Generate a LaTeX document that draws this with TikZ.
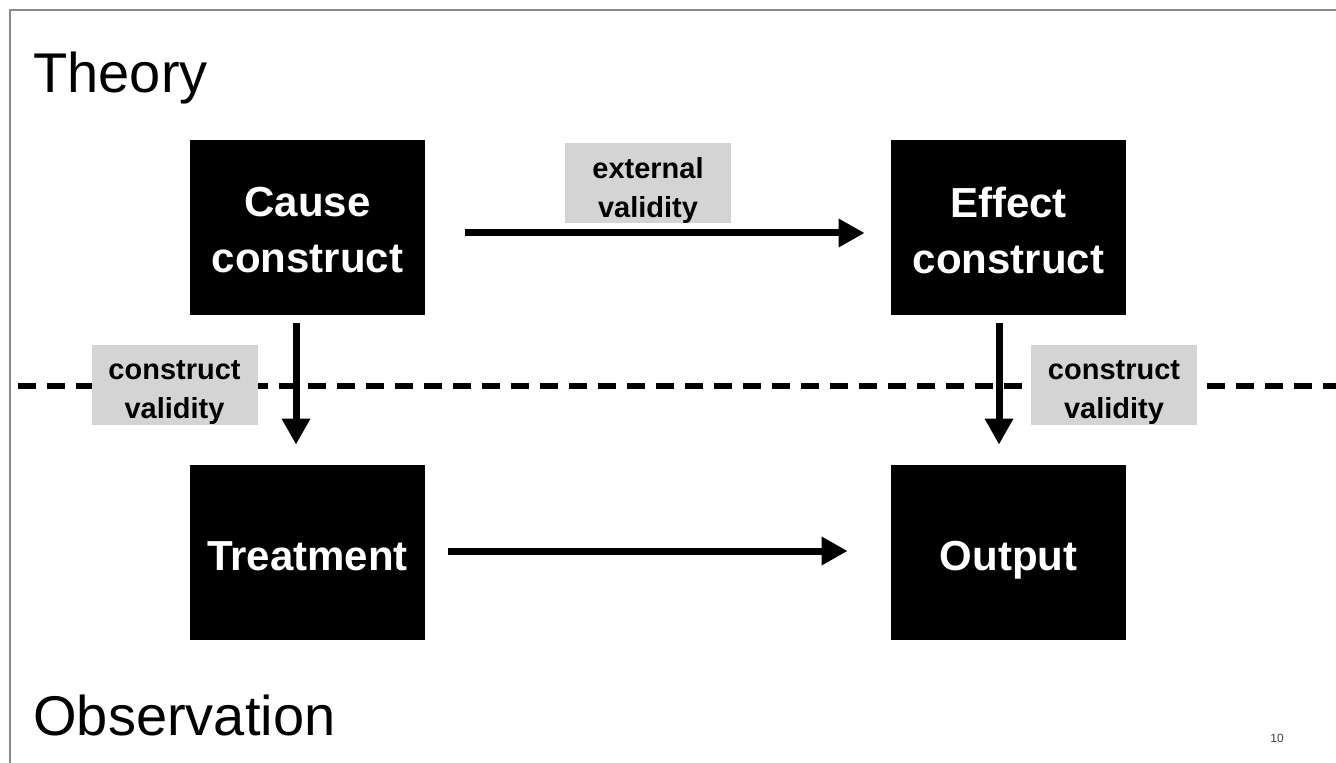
\documentclass[tikz,border=0pt]{standalone}
\usepackage{fontspec}
\setmainfont{Liberation Sans}
\usetikzlibrary{arrows.meta}
\definecolor{labelgray}{HTML}{D4D4D4}
\definecolor{framegray}{HTML}{8A8A8A}
\tikzset{
  blockbox/.style={fill=black, minimum width=117.5pt, minimum height=87.5pt, inner sep=0pt},
  blocktext/.style={text=white, inner sep=0pt, align=center,
    font=\fontsize{21}{28}\selectfont\bfseries},
  tagbox/.style={fill=labelgray, minimum width=83pt, minimum height=40pt, inner sep=0pt},
  tagtext/.style={text=black, inner sep=0pt, align=center,
    font=\fontsize{14.5}{19.5}\selectfont\bfseries},
  flow/.style={line width=3.5pt, -{Triangle[length=13pt,width=13.5pt]}},
  heading/.style={anchor=base west, inner sep=0pt, font=\fontsize{28}{30}\selectfont}
}
\begin{document}
\begin{tikzpicture}[x=0.5pt,y=-0.5pt]
\useasboundingbox (0,0) rectangle (1336,763);
% slide frame
\draw[framegray, line width=0.6pt] (10,763) -- (10,10) -- (1336,10);

% headings
\node[heading] (theory) at (33,93) {Theory};
\node[heading] (obs) at (33,735) {Observation};
\node[anchor=center, inner sep=0pt, text=black!75, font=\fontsize{6}{7}\selectfont] (pageno) at (1277,738) {10};

% divider between theory and observation
\coordinate (divL) at (18,386);
\coordinate (divR) at (1336,386);
\draw[line width=3pt, dash pattern=on 9pt off 5.5pt] (divL) -- (divR);

% blocks
\node[blockbox] (cause)  at (307.5,227.5) {};
\node[blockbox] (effect) at (1008.5,227.5) {};
\node[blockbox] (treat)  at (307.5,552.5) {};
\node[blockbox] (out)    at (1008.5,552.5) {};
\node[blocktext] (causeT)  at ([yshift=-1.5pt]cause.center)  {Cause\\construct};
\node[blocktext] (effectT) at ([yshift=-1.5pt]effect.center) {Effect\\construct};
\node[blocktext, anchor=base] (treatT) at ([yshift=-8.75pt]treat.center) {Treatment};
\node[blocktext, anchor=base] (outT)   at ([yshift=-8.75pt]out.center)   {Output};

% connectors
\draw[flow] ([shift={(20pt,-2.75pt)}]cause.east) -- ([shift={(-13pt,-2.75pt)}]effect.west);
\draw[flow] ([shift={(11.5pt,0.75pt)}]treat.east) -- ([shift={(-21.5pt,0.75pt)}]out.west);
\draw[flow] ([shift={(-5.75pt,-4pt)}]cause.south) -- ([shift={(-5.75pt,10pt)}]treat.north);
\draw[flow] ([shift={(-4.75pt,-4pt)}]effect.south) -- ([shift={(-4.75pt,10pt)}]out.north);

% validity tags
\node[tagbox] (ext)  at (648,183.5) {};
\node[tagbox] (cvl)  at (174.5,385) {};
\node[tagbox] (cvr)  at (1114,385) {};
\node[tagtext] (extT) at ([yshift=-3.75pt]ext.center) {external\\validity};
\node[tagtext] (cvlT) at ([yshift=-3.75pt]cvl.center) {construct\\validity};
\node[tagtext] (cvrT) at ([yshift=-3.75pt]cvr.center) {construct\\validity};
\end{tikzpicture}
\end{document}
